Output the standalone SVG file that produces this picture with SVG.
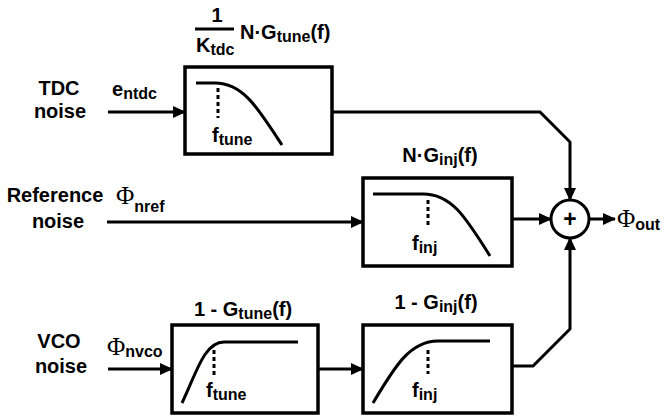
<svg xmlns="http://www.w3.org/2000/svg" width="665" height="417" viewBox="0 0 665 417">
<style>
.t{font-family:"Liberation Sans",Arial,sans-serif;font-weight:bold;font-size:20px;fill:#000}
.s{font-size:16px}
.phi{font-family:"Liberation Serif","Times New Roman",serif;font-weight:normal;font-size:25px;fill:#000}
.box{fill:#fff;stroke:#000;stroke-width:3.5}
.crv{fill:none;stroke:#000;stroke-width:3}
.dot{fill:none;stroke:#000;stroke-width:3;stroke-dasharray:4 3}
.ln{fill:none;stroke:#000;stroke-width:3}
</style>
<defs>
<marker id="ah" markerWidth="13" markerHeight="12" refX="12" refY="6" orient="auto" markerUnits="userSpaceOnUse">
<path d="M0,0 L13,6 L0,12 z" fill="#000"/>
</marker>
</defs>

<g id="labels">
<text class="t" x="59" y="95" text-anchor="middle">TDC</text>
<text class="t" x="60" y="118" text-anchor="middle">noise</text>
<text class="t" x="55" y="202" text-anchor="middle">Reference</text>
<text class="t" x="58" y="228" text-anchor="middle">noise</text>
<text class="t" x="59" y="348" text-anchor="middle">VCO</text>
<text class="t" x="61" y="373" text-anchor="middle">noise</text>
<text class="t" x="112" y="96">e<tspan class="s" dy="3">ntdc</tspan></text>
<text class="phi" x="116" y="204">Φ<tspan class="t s" dy="8">nref</tspan></text>
<text class="phi" x="107" y="355">Φ<tspan class="t s" dy="2">nvco</tspan></text>
</g>

<g id="tdc-filter">
<rect class="box" x="185" y="67" width="147" height="87"/>
<path class="crv" d="M196,83 H215 C243,83 258,108 282,145"/>
<line class="dot" x1="218" y1="88" x2="218" y2="118"/>
<text class="t" x="212" y="142">f<tspan class="s" dy="3">tune</tspan></text>
<text class="t" x="217" y="22" text-anchor="middle">1</text>
<line class="ln" x1="195" y1="29" x2="234" y2="29"/>
<text class="t" x="196" y="52">K<tspan class="s" dy="3">tdc</tspan></text>
<text class="t" x="240" y="39">N·G<tspan class="s" dy="3">tune</tspan><tspan dy="-3">(f)</tspan></text>
</g>

<g id="ref-filter">
<rect class="box" x="363" y="178" width="149" height="88"/>
<path class="crv" d="M373,194 H423 C452,194 466,218 490,256"/>
<line class="dot" x1="428" y1="200" x2="428" y2="228"/>
<text class="t" x="412" y="250">f<tspan class="s" dy="3">inj</tspan></text>
<text class="t" x="440" y="162" text-anchor="middle">N·G<tspan class="s" dy="3">inj</tspan><tspan dy="-3">(f)</tspan></text>
</g>

<g id="vco-filter1">
<rect class="box" x="172" y="325" width="146" height="88"/>
<path class="crv" d="M182,403 C196,374 204,342 224,342 H298"/>
<line class="dot" x1="214" y1="350" x2="214" y2="375"/>
<text class="t" x="206" y="397">f<tspan class="s" dy="3">tune</tspan></text>
<text class="t" x="243" y="316" text-anchor="middle">1 - G<tspan class="s" dy="3">tune</tspan><tspan dy="-3">(f)</tspan></text>
</g>

<g id="vco-filter2">
<rect class="box" x="363" y="325" width="149" height="88"/>
<path class="crv" d="M373,403 C395,366 410,341 438,341 H490"/>
<line class="dot" x1="428" y1="350" x2="428" y2="374"/>
<text class="t" x="412" y="397">f<tspan class="s" dy="3">inj</tspan></text>
<text class="t" x="436" y="309" text-anchor="middle">1 - G<tspan class="s" dy="3">inj</tspan><tspan dy="-3">(f)</tspan></text>
</g>

<g id="sum">
<circle cx="570" cy="219" r="19" fill="#fff" stroke="#000" stroke-width="3"/>
<text class="t" x="570" y="227" text-anchor="middle" style="font-size:23px">+</text>
</g>

<g id="output">
<text class="phi" x="617" y="227">Φ<tspan class="t s" dy="3">out</tspan></text>
</g>

<g id="connectors">
<line class="ln" x1="108" y1="112" x2="185" y2="112" marker-end="url(#ah)"/>
<line class="ln" x1="107" y1="222" x2="363" y2="222" marker-end="url(#ah)"/>
<line class="ln" x1="108" y1="369" x2="172" y2="369" marker-end="url(#ah)"/>
<line class="ln" x1="318" y1="369" x2="363" y2="369" marker-end="url(#ah)"/>
<polyline class="ln" points="332,112 540,112 570,142 570,200" marker-end="url(#ah)"/>
<line class="ln" x1="512" y1="219" x2="551" y2="219" marker-end="url(#ah)"/>
<polyline class="ln" points="512,366 533,366 570,329 570,238" marker-end="url(#ah)"/>
<line class="ln" x1="589" y1="219" x2="615" y2="219" marker-end="url(#ah)"/>
</g>
</svg>
